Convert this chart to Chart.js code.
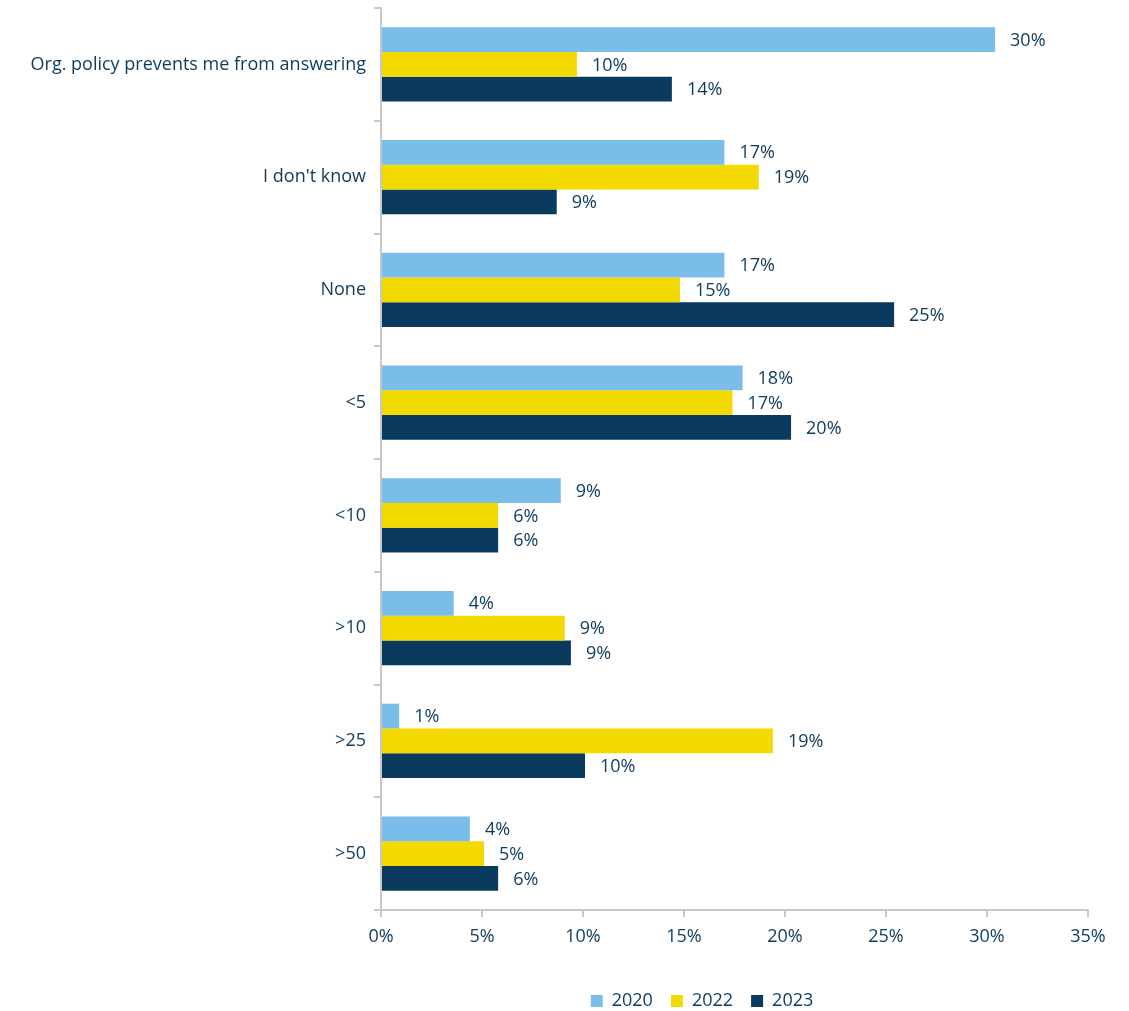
<!DOCTYPE html>
<html>
<head>
<meta charset="utf-8">
<script src="https://cdn.jsdelivr.net/npm/chart.js@4/dist/chart.umd.min.js"></script>
<style>
  html, body { margin: 0; padding: 0; background: #fff; }
  #wrap { width: 1129px; height: 1011px; position: relative; }
</style>
</head>
<body>
<div id="wrap"><canvas id="chart"></canvas></div>
<script>
const categories = [
  "Org. policy prevents me from answering",
  "I don't know",
  "None",
  "<5",
  "<10",
  ">10",
  ">25",
  ">50",
];
const values2020 = [30.4, 17.0, 17.0, 17.9, 8.9, 3.6, 0.9, 4.4];
const values2022 = [9.7, 18.7, 14.8, 17.4, 5.8, 9.1, 19.4, 5.1];
const values2023 = [14.4, 8.7, 25.4, 20.3, 5.8, 9.4, 10.1, 5.8];
const xTicks = [0, 5, 10, 15, 20, 25, 30, 35];

const textColor = "#0e3a5c";
const axisColor = "#c8c8c8";
const fontFamily = "'Open Sans', sans-serif";

// value labels at the end of each bar
const barLabels = {
  id: "barLabels",
  afterDatasetsDraw(chart) {
    const ctx = chart.ctx;
    ctx.save();
    ctx.font = "18px " + fontFamily;
    ctx.fillStyle = textColor;
    ctx.textAlign = "left";
    ctx.textBaseline = "middle";
    chart.data.datasets.forEach((ds, i) => {
      chart.getDatasetMeta(i).data.forEach((bar, j) => {
        ctx.fillText(Math.round(ds.data[j]) + "%", bar.x + 15, bar.y + 1);
      });
    });
    ctx.restore();
  },
};

// nudge the legend to where it sits in the original
const legendShift = {
  id: "legendShift",
  afterLayout(chart) {
    const lg = chart.legend;
    const dx = 702 - (lg.left + lg.right) / 2;
    lg.left += dx;
    lg.right += dx;
    lg.top += 9;
    lg.bottom += 9;
  },
};

new Chart(document.getElementById("chart"), {
  type: "bar",
  data: {
    labels: categories,
    datasets: [
      { label: "2020", data: values2020, backgroundColor: "#7bbde9" },
      { label: "2022", data: values2022, backgroundColor: "#f2d900" },
      { label: "2023", data: values2023, backgroundColor: "#0a3a5e" },
    ],
  },
  options: {
    indexAxis: "y",
    responsive: true,
    maintainAspectRatio: false,
    animation: false,
    layout: { autoPadding: false, padding: { top: 8, right: 41, bottom: 0, left: 0 } },
    datasets: {
      bar: { categoryPercentage: 0.66, barPercentage: 1.0 },
    },
    scales: {
      x: {
        min: 0,
        max: 35,
        afterBuildTicks(scale) {
          scale.ticks = xTicks.map((v) => ({ value: v }));
        },
        afterFit(scale) {
          scale.height = 55;
        },
        border: { color: axisColor, width: 2 },
        grid: { drawOnChartArea: false, drawTicks: true, tickLength: 7, color: axisColor, lineWidth: 2 },
        ticks: {
          color: textColor,
          font: { family: fontFamily, size: 18 },
          padding: 9,
          callback: (v) => v + "%",
        },
      },
      y: {
        afterFit(scale) {
          scale.width = 381;
          scale.paddingTop = 0;
          scale.paddingBottom = 0;
        },
        border: { color: axisColor, width: 2 },
        grid: { drawOnChartArea: false, drawTicks: true, tickLength: 7, color: axisColor, lineWidth: 2, offset: true },
        ticks: {
          color: textColor,
          font: { family: fontFamily, size: 18 },
          padding: 8,
        },
      },
    },
    plugins: {
      legend: {
        position: "bottom",
        labels: {
          color: textColor,
          font: { family: fontFamily, size: 18 },
          boxWidth: 12,
          boxHeight: 12,
          padding: 18,
        },
      },
      tooltip: { enabled: false },
    },
  },
  plugins: [barLabels, legendShift],
});
</script>
</body>
</html>
